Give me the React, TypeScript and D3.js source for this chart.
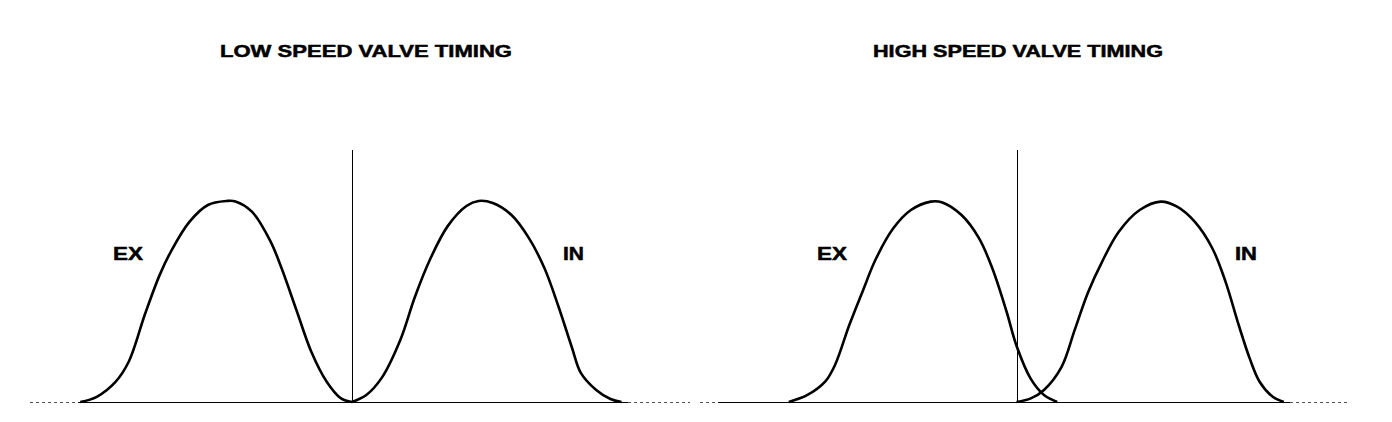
import React from "react";
import * as d3 from "d3";

// Valve lift profiles: [crank angle from TDC (deg), lift (mm)]
const lowSpeedExhaust: [number, number][] = [
  [-247, 0], [-232, 0.26], [-215, 1.0], [-203, 2.0], [-188, 4.4], [-175, 6.3],
  [-165, 7.45], [-148, 8.95], [-131, 9.8], [-114, 10.0], [-106, 9.98], [-91, 9.47],
  [-74, 7.98], [-64, 6.65], [-50, 4.49], [-37, 2.5], [-23, 1.01], [-10, 0.18], [0, 0],
];
const lowSpeedIntake: [number, number][] = [
  [0, 0], [13, 0.35], [27, 1.2], [44, 3.1], [57, 5.2], [71, 7.1], [87, 8.75],
  [104, 9.75], [115, 10.0], [128, 9.9], [145, 9.3], [161, 8.14], [175, 6.65],
  [188, 4.7], [200, 2.7], [208, 1.45], [222, 0.6], [235, 0.15], [245, 0],
];
const highSpeedExhaust: [number, number][] = [
  [-207, 0], [-190, 0.35], [-174, 1.01], [-165, 1.84], [-152, 3.83], [-140, 5.49],
  [-128, 7.1], [-112, 8.64], [-96, 9.55], [-78, 9.97], [-68, 9.94], [-50, 9.3],
  [-34, 8.14], [-22, 6.65], [-9, 4.49], [0, 2.8], [13, 1.15], [25, 0.35], [37, 0],
];
const highSpeedIntake: [number, number][] = [
  [0, 0], [13, 0.18], [25, 0.6], [41, 1.75], [53, 3.6], [65, 5.45], [78, 7.0],
  [93, 8.47], [112, 9.55], [131, 9.97], [146, 9.72], [162, 8.97], [178, 7.65],
  [190, 5.99], [202, 3.83], [212, 2.17], [221, 1.01], [233, 0.26], [243, 0],
];

const panelTitles = ["LOW SPEED VALVE TIMING", "HIGH SPEED VALVE TIMING"];
const curveLabels = ["EX", "IN"];

const W = 1392;
const H = 422;
const BASE_Y = 402;
const PEAK_Y = 201;
const FONT = "'Liberation Sans', Arial, Helvetica, sans-serif";

const yScale = d3.scaleLinear().domain([0, 10]).range([BASE_Y, PEAK_Y]);

type Panel = {
  title: string;
  titleX: number;
  titleWidth: number;
  tdc: number;
  exhaust: [number, number][];
  intake: [number, number][];
  exLabel: { x: number; w: number };
  inLabel: { x: number; w: number };
  base: { solid: [number, number]; dotted: [number, number][] };
};

const panels: Panel[] = [
  {
    title: panelTitles[0],
    titleX: 366,
    titleWidth: 292,
    tdc: 352,
    exhaust: lowSpeedExhaust,
    intake: lowSpeedIntake,
    exLabel: { x: 113, w: 30 },
    inLabel: { x: 563, w: 21 },
    base: { solid: [78, 628], dotted: [[30, 78], [628, 690]] },
  },
  {
    title: panelTitles[1],
    titleX: 1018,
    titleWidth: 290,
    tdc: 1016.5,
    exhaust: highSpeedExhaust,
    intake: highSpeedIntake,
    exLabel: { x: 817, w: 30 },
    inLabel: { x: 1235, w: 22 },
    base: { solid: [718, 1290], dotted: [[700, 718], [1290, 1350]] },
  },
];

function PanelView({ p }: { p: Panel }) {
  const x = d3.scaleLinear().domain([-300, 300]).range([p.tdc - 330, p.tdc + 330]);
  const line = d3
    .line<[number, number]>()
    .x((d) => x(d[0]))
    .y((d) => yScale(d[1]))
    .curve(d3.curveCatmullRom.alpha(0.5));
  const vx = Math.round(x(0)) + 0.5;
  const labelProps = {
    fontFamily: FONT,
    fontWeight: "bold" as const,
    fontSize: 19,
    lengthAdjust: "spacingAndGlyphs",
    fill: "#000",
    stroke: "#000",
    strokeWidth: 0.5,
  };
  return (
    <g>
      <text
        x={p.titleX}
        y={57}
        textAnchor="middle"
        fontFamily={FONT}
        fontWeight="bold"
        fontSize={17}
        textLength={p.titleWidth}
        lengthAdjust="spacingAndGlyphs"
        fill="#000"
        stroke="#000"
        strokeWidth={0.5}
      >
        {p.title}
      </text>
      {/* baseline */}
      <line
        x1={p.base.solid[0]}
        x2={p.base.solid[1]}
        y1={BASE_Y + 0.5}
        y2={BASE_Y + 0.5}
        stroke="#000"
        strokeWidth={1}
      />
      {p.base.dotted.map((seg, i) => (
        <line
          key={i}
          x1={seg[0]}
          x2={seg[1]}
          y1={BASE_Y + 0.5}
          y2={BASE_Y + 0.5}
          stroke="#555"
          strokeWidth={1}
          strokeDasharray="3 3"
        />
      ))}
      {/* TDC marker */}
      <line x1={vx} x2={vx} y1={150} y2={BASE_Y} stroke="#000" strokeWidth={1} />
      <path d={line(p.exhaust) || ""} fill="none" stroke="#000" strokeWidth={2.6} />
      <path d={line(p.intake) || ""} fill="none" stroke="#000" strokeWidth={2.6} />
      <text x={p.exLabel.x} y={260} textLength={p.exLabel.w} {...labelProps}>
        {curveLabels[0]}
      </text>
      <text x={p.inLabel.x} y={260} textLength={p.inLabel.w} {...labelProps}>
        {curveLabels[1]}
      </text>
    </g>
  );
}

export default function App() {
  return (
    <svg
      width={W}
      height={H}
      viewBox={`0 0 ${W} ${H}`}
      style={{ position: "absolute", left: 0, top: 0, background: "#fff" }}
    >
      <rect width={W} height={H} fill="#fff" />
      {panels.map((p, i) => (
        <PanelView key={i} p={p} />
      ))}
    </svg>
  );
}
